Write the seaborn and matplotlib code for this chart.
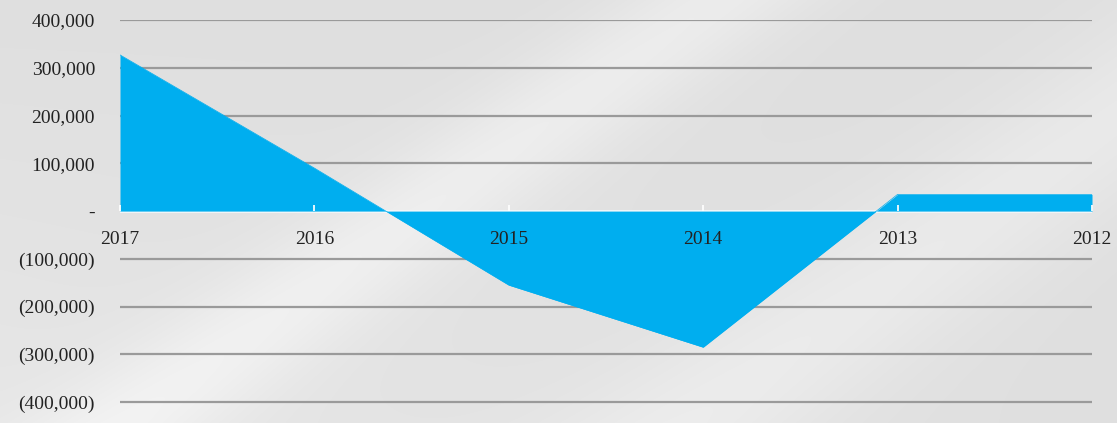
import numpy as np
import pandas as pd
import matplotlib
matplotlib.use("Agg")
import matplotlib.pyplot as plt
import seaborn as sns

years = ["2017", "2016", "2015", "2014", "2013", "2012"]
values = [327000, 90000, -155000, -285000, 35000, 35000]
y_ticks = [400000, 300000, 200000, 100000, 0, -100000, -200000, -300000, -400000]
y_labels = ["400,000", "300,000", "200,000", "100,000", "-",
            "(100,000)", "(200,000)", "(300,000)", "(400,000)"]

sns.set_theme(style="white")
plt.rcParams["font.family"] = ["Liberation Serif", "DejaVu Serif"]

fig = plt.figure(figsize=(11.17, 4.23), dpi=100)

# background gradient
bg = fig.add_axes([0, 0, 1, 1], zorder=-10)
H, W = 423, 1117
yy, xx = np.mgrid[0:H, 0:W]
d = (xx + yy * 1.4) / (W + H * 1.4)
img = 0.875 + 0.05 * np.exp(-((d - 0.42) / 0.06) ** 2) + 0.04 * np.exp(-((d - 0.75) / 0.08) ** 2)
img += 0.03 * (1 - xx / W) * (yy / H)
img = np.clip(img, 0, 1)
bg.imshow(np.dstack([img, img, img]), aspect="auto", extent=[0, 1, 0, 1])
bg.axis("off")

ax = fig.add_axes([120 / 1117, 17 / 423, (1092 - 120) / 1117, (406 - 20) / 423])
ax.patch.set_alpha(0)

df = pd.DataFrame({"pos": np.arange(len(years)), "value": values})
sns.lineplot(data=df, x="pos", y="value", ax=ax, color="#00AEEF", linewidth=0.5, zorder=3)
ax.fill_between(df["pos"], df["value"], 0, color="#00AEEF", zorder=3, linewidth=0)

for t in y_ticks:
    if t != 0:
        ax.axhline(t, color="#9a9a9a", linewidth=1.6, zorder=1)
ax.axhline(0, color="#f4f8fa", linewidth=2.0, zorder=2)

ax.set_xlim(0, len(years) - 1)
ax.set_ylim(-408000, 400000)
ax.set_yticks(y_ticks)
ax.set_yticklabels(y_labels)
ax.set_xticks(np.arange(len(years)))
ax.set_xticklabels(years)
ax.set_xlabel("")
ax.set_ylabel("")

for s in ax.spines.values():
    s.set_visible(False)
ax.spines["bottom"].set_position(("data", 0))

ax.tick_params(axis="y", length=0, pad=18, labelsize=14, labelcolor="#222222")
ax.tick_params(axis="x", length=4, direction="in", color="white", pad=14,
               labelsize=14, labelcolor="#222222")
ax.xaxis.set_ticks_position("bottom")
ax.xaxis.set_zorder(5)

fig.savefig("out.png", dpi=100)
